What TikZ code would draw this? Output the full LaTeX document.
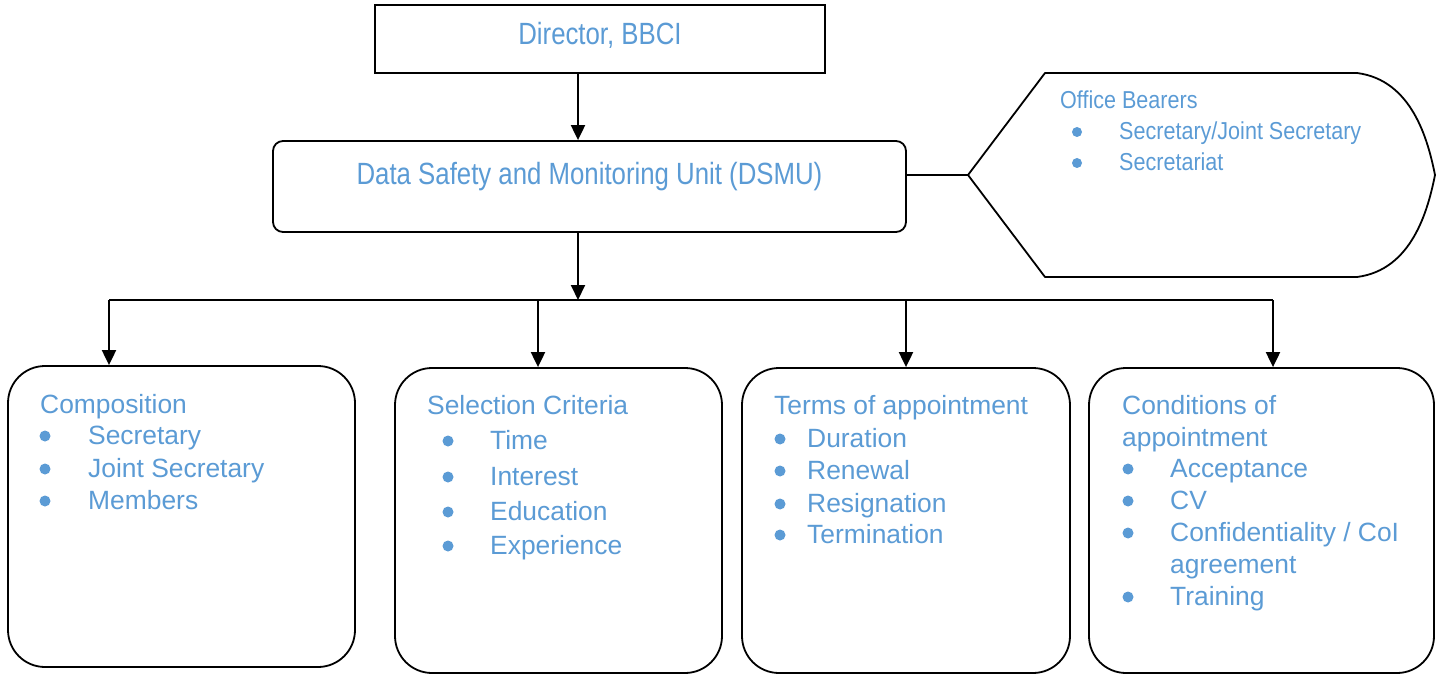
\documentclass[tikz,border=0pt]{standalone}
\usepackage{fontspec}
\setmainfont{Liberation Sans}
\newfontfamily\narrowfont{Liberation Sans}[FakeStretch=0.84]
\newfontfamily\officefont{Liberation Sans}[FakeStretch=0.88]
\usetikzlibrary{arrows.meta}
\definecolor{txtblue}{HTML}{5B9BD5}
\begin{document}
\begin{tikzpicture}[x=1pt,y=-1pt,
  box/.style={draw=black,line width=1.8pt,inner sep=0pt,fill=white},
  bigbox/.style={box,rounded corners=37pt},
  arr/.style={line width=2pt,-{Triangle[length=15pt,width=14pt]}},
  line/.style={line width=2pt},
  toptxt/.style={text=txtblue,inner sep=0pt,font=\narrowfont\fontsize{30.7}{36}\selectfont},
  offtxt/.style={text=txtblue,inner sep=0pt,anchor=base west,font=\officefont\fontsize{24.5}{30}\selectfont},
  itxt/.style={text=txtblue,inner sep=0pt,anchor=base west,font=\fontsize{26.4}{32}\selectfont},
  bul/.style={circle,fill=txtblue,inner sep=0pt,minimum size=11pt}
]
\useasboundingbox (0,0) rectangle (1444,674);

% top boxes
\node[box,minimum width=450pt,minimum height=68pt] (dir) at (600,39) {};
\node[toptxt,anchor=base] (dirt) at (600,44.5) {Director, BBCI};
\node[box,rounded corners=10pt,minimum width=633pt,minimum height=91pt] (dsmu) at (589.5,186.5) {};
\node[toptxt,anchor=base] (dsmut) at (589.5,185) {Data Safety and Monitoring Unit (DSMU)};

% office bearers shape
\coordinate (ob) at (968,175);
\draw[line width=1.8pt,line join=round] (ob) -- (1045,73) -- (1357,73)
  .. controls (1412,80) and (1428,140) .. (1435,175)
  .. controls (1428,210) and (1412,270) .. (1357,277)
  -- (1045,277) -- cycle;
\node[offtxt] (obt) at (1060,109) {Office Bearers};
\node[bul,minimum size=10pt] (obb1) at (1077,132) {};
\node[offtxt] (obi1) at (1119,140) {Secretary/Joint Secretary};
\node[bul,minimum size=10pt] (obb2) at (1077,163) {};
\node[offtxt] (obi2) at (1119,171) {Secretariat};
\draw[line] (dsmu.east |- ob) -- (ob);

% connectors
\coordinate (cx) at (578,0);
\coordinate (bm) at (578,300);
\coordinate (b1) at (109,300);
\coordinate (b2) at (538,300);
\coordinate (b3) at (906,300);
\coordinate (b4) at (1273,300);
\draw[arr] (dir.south -| cx) -- (dsmu.north -| cx);
\draw[arr] (dsmu.south -| cx) -- (bm);
\draw[line] (b1) -- (b4);

% bottom boxes
\node[bigbox,minimum width=347pt,minimum height=301pt] (comp) at (181.5,516.5) {};
\node[bigbox,minimum width=327pt,minimum height=305pt] (sel) at (558.5,520.5) {};
\node[bigbox,minimum width=328pt,minimum height=305pt] (term) at (906,520.5) {};
\node[bigbox,minimum width=345pt,minimum height=305pt] (cond) at (1261.5,520.5) {};

\draw[arr] (b1) -- (b1 |- comp.north);
\draw[arr] (b2) -- (b2 |- sel.north);
\draw[arr] (b3) -- (b3 |- term.north);
\draw[arr] (b4) -- (b4 |- cond.north);

% Composition
\node[itxt] (c0) at (40,413) {Composition};
\node[bul] (cb1) at (45,436) {};
\node[itxt] (c1) at (88,444) {Secretary};
\node[bul] (cb2) at (45,469) {};
\node[itxt] (c2) at (88,477) {Joint Secretary};
\node[bul] (cb3) at (45,501) {};
\node[itxt] (c3) at (88,509) {Members};

% Selection Criteria
\node[itxt] (s0) at (427,414) {Selection Criteria};
\node[bul] (sb1) at (448,441) {};
\node[itxt] (s1) at (490,449) {Time};
\node[bul] (sb2) at (448,477) {};
\node[itxt] (s2) at (490,485) {Interest};
\node[bul] (sb3) at (448,512) {};
\node[itxt] (s3) at (490,520) {Education};
\node[bul] (sb4) at (448,546) {};
\node[itxt] (s4) at (490,554) {Experience};

% Terms of appointment
\node[itxt] (t0) at (774,414) {Terms of appointment};
\node[bul] (tb1) at (780,439) {};
\node[itxt] (t1) at (807,447) {Duration};
\node[bul] (tb2) at (780,471) {};
\node[itxt] (t2) at (807,479) {Renewal};
\node[bul] (tb3) at (780,504) {};
\node[itxt] (t3) at (807,512) {Resignation};
\node[bul] (tb4) at (780,535) {};
\node[itxt] (t4) at (807,543) {Termination};

% Conditions of appointment
\node[itxt] (k0) at (1122,414) {Conditions of};
\node[itxt] (k0b) at (1122,446) {appointment};
\node[bul] (kb1) at (1128,469) {};
\node[itxt] (k1) at (1170,477) {Acceptance};
\node[bul] (kb2) at (1128,501) {};
\node[itxt] (k2) at (1170,509) {CV};
\node[bul] (kb3) at (1128,533) {};
\node[itxt] (k3) at (1170,541) {Confidentiality / CoI};
\node[itxt] (k3b) at (1170,573) {agreement};
\node[bul] (kb4) at (1128,597) {};
\node[itxt] (k4) at (1170,605) {Training};
\end{tikzpicture}
\end{document}
